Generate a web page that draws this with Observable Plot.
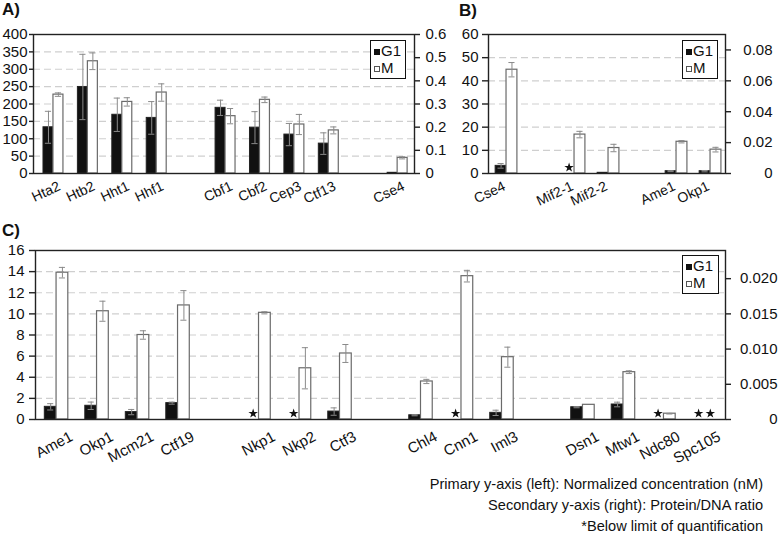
<!DOCTYPE html>
<html><head><meta charset="utf-8">
<script src="https://cdn.jsdelivr.net/npm/d3@7"></script>
<script src="https://cdn.jsdelivr.net/npm/@observablehq/plot@0.6"></script>
<style>
body{margin:0;background:#fff;font-family:"Liberation Sans",Arial,sans-serif;color:#111;}
#root{position:relative;width:778px;height:539px;overflow:hidden;}
.panel{position:absolute;}
.lbl{position:absolute;font-weight:bold;font-size:17px;}
.legend{position:absolute;border:1.5px solid #111;background:#fff;font-size:15px;line-height:17px;padding:1px 0 0 3px;box-sizing:border-box;}
.sq{display:inline-block;width:6px;height:6px;margin-right:1px;vertical-align:1px;border:1px solid #111;box-sizing:border-box;}
.foot{position:absolute;right:15px;font-size:14.6px;text-align:right;white-space:nowrap;}
</style></head><body><div id="root"></div>
<script>
// ---------- Panel A ----------
const catsA = ["Hta2","Htb2","Hht1","Hhf1","","Cbf1","Cbf2","Cep3","Ctf13","","Cse4"];
const g1A   = [133, 249, 169, 160, null, 189, 132, 112, 86, null, 2];
const g1ErrA= [46, 94, 48, 47, null, 22, 46, 32, 31, null, 0];
const mA    = [227, 323, 206, 233, null, 165, 212, 141, 124, null, 45];
const mErrA = [5, 24, 12, 25, null, 22, 8, 29, 10, null, 3];
const leftTicksA = [0,50,100,150,200,250,300,350,400];
const rightTicksA = [0,0.1,0.2,0.3,0.4,0.5,0.6];

// ---------- Panel B ----------
const catsB = ["Cse4","","Mif2-1","Mif2-2","","Ame1","Okp1"];
const g1B   = [3.3, null, "*", 0.3, null, 1.0, 1.0];
const g1ErrB= [1.0, null, 0, 0, null, 0.2, 0.3];
const mB    = [44.8, null, 16.8, 11.0, null, 13.7, 10.3];
const mErrB = [3.1, null, 1.4, 1.6, null, 0.5, 1.0];
const leftTicksB = [0,10,20,30,40,50,60];
const rightTicksB = [0,0.02,0.04,0.06,0.08];

// ---------- Panel C ----------
const catsC = ["Ame1","Okp1","Mcm21","Ctf19","","Nkp1","Nkp2","Ctf3","","Chl4","Cnn1","Iml3","","Dsn1","Mtw1","Ndc80","Spc105"];
const g1C   = [1.2, 1.3, 0.7, 1.55, null, "*", "*", 0.75, null, 0.4, "*", 0.63, null, 1.16, 1.42, "*", "*"];
const g1ErrC= [0.3, 0.35, 0.25, 0.1, null, 0, 0, 0.35, null, 0.05, 0, 0.25, null, 0.05, 0.22, 0, 0];
const mC    = [13.9, 10.25, 8.0, 10.8, null, 10.1, 4.85, 6.25, null, 3.6, 13.57, 5.9, null, 1.39, 4.48, 0.55, "*"];
const mErrC = [0.5, 0.95, 0.4, 1.4, null, 0.1, 1.95, 0.85, null, 0.2, 0.55, 0.95, null, 0, 0.13, 0.03, 0];
const leftTicksC = [0,2,4,6,8,10,12,14,16];
const rightTicksC = [0,0.005,0.010,0.015,0.020];

const RATIO = 0.0015; // right axis (Protein/DNA ratio) per left unit
const footLines = [
  "Primary y-axis (left): Normalized concentration (nM)",
  "Secondary y-axis (right): Protein/DNA ratio",
  "*Below limit of quantification"
];

function rows(cats, g1, g1Err, m, mErr, bw) {
  const bars = [], errs = [], stars = [];
  cats.forEach((c, i) => {
    if (!c) return;
    [[g1[i], g1Err[i], i - bw / 2, "G1"], [m[i], mErr[i], i + bw / 2, "M"]].forEach(([v, e, cx, s]) => {
      if (v === "*") stars.push({cx, s});
      else if (v != null) {
        bars.push({cx, v, s});
        if (e > 0) errs.push({cx, lo: v - e, hi: v + e});
      }
    });
  });
  return {bars, errs, stars};
}

function panel(cfg) {
  const {cats, g1, g1Err, m, mErr, bw, cap, leftTicks, rightTicks, rightFmt, xDomain,
         width, height, margins, rightOpts, xText} = cfg;
  const {bars, errs, stars} = rows(cats, g1, g1Err, m, mErr, bw);
  const ymax = leftTicks[leftTicks.length - 1];
  const labels = cats.map((c, i) => ({i, c})).filter(d => d.c);
  return Plot.plot({
    width, height,
    marginLeft: margins[0], marginRight: margins[1], marginTop: margins[2], marginBottom: margins[3],
    style: {fontFamily: '"Liberation Sans", Arial, sans-serif', fontSize: "15px", background: "transparent", overflow: "visible", color: "#111"},
    x: {domain: xDomain, label: null, axis: null},
    y: {domain: [0, ymax], label: null},
    marks: [
      Plot.ruleY(leftTicks.slice(1, -1), {stroke: "#cfcfcf", strokeDasharray: "7,4", strokeWidth: 1.2}),
      Plot.rectY(bars.filter(d => d.s === "G1"), {x1: d => d.cx - bw / 2, x2: d => d.cx + bw / 2, y1: d => 0, y2: "v", fill: "#111", stroke: "#222", strokeWidth: 1}),
      Plot.rectY(bars.filter(d => d.s === "M"), {x1: d => d.cx - bw / 2, x2: d => d.cx + bw / 2, y1: d => 0, y2: "v", fill: "#fff", stroke: "#6a6a6a", strokeWidth: 1.2}),
      Plot.ruleX(errs, {x: "cx", y1: "lo", y2: "hi", stroke: "#8a8a8a", strokeWidth: 1}),
      Plot.ruleY(errs, {y: "lo", x1: d => d.cx - cap, x2: d => d.cx + cap, stroke: "#8a8a8a", strokeWidth: 1}),
      Plot.ruleY(errs, {y: "hi", x1: d => d.cx - cap, x2: d => d.cx + cap, stroke: "#8a8a8a", strokeWidth: 1}),
      Plot.dot(stars, {x: "cx", y: d => 0, symbol: "star", fill: "#111", stroke: "none", r: 3, dy: -6}),
      Plot.frame({stroke: "#222", strokeWidth: 1.4}),
      Plot.axisY({ticks: leftTicks, label: null, tickSize: cfg.leftTickSize, tickPadding: cfg.leftTickPadding, stroke: "#222", strokeWidth: 1.4}),
      Plot.axisY({anchor: "right", label: null, ticks: rightTicks.map(r => r / RATIO), tickFormat: d => rightFmt(d * RATIO),
                  tickSize: 5, stroke: "#222", strokeWidth: 1.4, ...rightOpts}),
      Plot.text(labels, {x: "i", text: "c", frameAnchor: "bottom", textAnchor: "end", lineAnchor: "middle",
                         fill: "#111", ...xText})
    ]
  });
}

const root = document.getElementById("root");
function place(el, left, top) {
  el.classList.add("panel");
  el.style.position = "absolute";
  el.style.left = left + "px";
  el.style.top = top + "px";
  root.appendChild(el);
}

place(panel({cats: catsA, g1: g1A, g1Err: g1ErrA, m: mA, mErr: mErrA, bw: 0.29, cap: 0.09,
  leftTicks: leftTicksA, rightTicks: rightTicksA, rightFmt: v => v === 0 ? "0" : v.toFixed(1),
  xDomain: [-0.58, 10.49], width: 450, height: 215, margins: [33, 36, 34, 42],
  leftTickSize: 4, leftTickPadding: 2, rightOpts: {tickPadding: 6},
  xText: {rotate: -25, dx: 6, dy: 12, fontSize: 14}}), 0, 0);

place(panel({cats: catsB, g1: g1B, g1Err: g1ErrB, m: mB, mErr: mErrB, bw: 0.32, cap: 0.09,
  leftTicks: leftTicksB, rightTicks: rightTicksB, rightFmt: v => v === 0 ? "0" : v.toFixed(2),
  xDomain: [-0.53, 6.44], width: 330, height: 215, margins: [40, 53, 34, 42],
  leftTickSize: 6, leftTickPadding: 4, rightOpts: {tickPadding: 42, textAnchor: "end"},
  xText: {rotate: -25, dx: -2, dy: 12, fontSize: 14}}), 448, 0);

place(panel({cats: catsC, g1: g1C, g1Err: g1ErrC, m: mC, mErr: mErrC, bw: 0.29, cap: 0.075,
  leftTicks: leftTicksC, rightTicks: rightTicksC, rightFmt: v => v === 0 ? "0" : v.toFixed(3),
  xDomain: [-0.52, 16.52], width: 778, height: 255, margins: [35, 53, 35, 51],
  leftTickSize: 6, leftTickPadding: 5, rightOpts: {tickPadding: 47, textAnchor: "end"},
  xText: {rotate: -28, dx: 15, dy: 16, fontSize: 15}}), 0, 215);

function label(text, left, top) {
  const d = document.createElement("div");
  d.className = "lbl"; d.textContent = text;
  d.style.left = left + "px"; d.style.top = top + "px";
  root.appendChild(d);
}
label("A)", 2, 0); label("B)", 459, 1); label("C)", 2, 221);

function legend(left, top, w, h) {
  const d = document.createElement("div");
  d.className = "legend";
  d.style.left = left + "px"; d.style.top = top + "px";
  d.style.width = w + "px"; d.style.height = h + "px";
  d.innerHTML = '<div><span class="sq" style="background:#111"></span>G1</div><div><span class="sq" style="background:#fff;border-color:#555"></span>M</div>';
  root.appendChild(d);
}
legend(370, 40, 36, 39); legend(682, 40, 36, 39); legend(682, 255, 37, 39);

footLines.forEach((t, k) => {
  const d = document.createElement("div");
  d.className = "foot"; d.textContent = t;
  d.style.top = (476 + k * 21) + "px";
  root.appendChild(d);
});
</script></body></html>
